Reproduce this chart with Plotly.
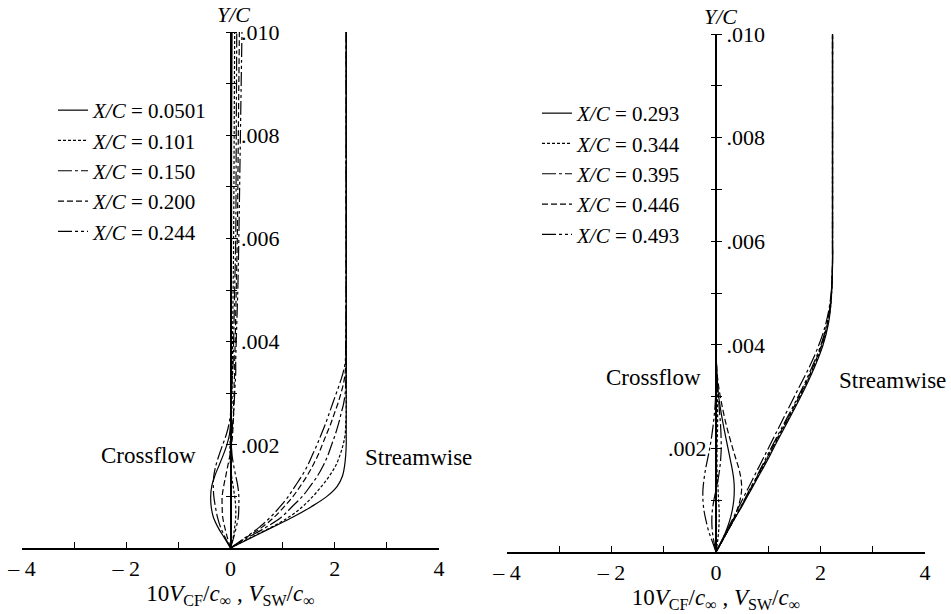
import plotly.graph_objects as go

# ---------------- data ----------------
# Left panel (X/C = 0.0501 ... 0.244)
y_left = [0, 0.0002, 0.0004, 0.0006, 0.0008, 0.0010, 0.0012, 0.0014, 0.0016, 0.0018,
          0.0020, 0.0022, 0.0024, 0.0026, 0.0028, 0.0030, 0.0032, 0.0034, 0.0036,
          0.0040, 0.0050, 0.0060, 0.0080, 0.0100]
labels_left = ["0.0501", "0.101", "0.150", "0.200", "0.244"]

sw_left_0501 = [0, 0.40, 0.80, 1.20, 1.55, 1.85, 2.05, 2.15, 2.19, 2.21, 2.22, 2.22, 2.22, 2.22, 2.22, 2.22, 2.22, 2.22, 2.22, 2.22, 2.22, 2.22, 2.22, 2.22]
sw_left_101 = [0, 0.38, 0.78, 1.12, 1.38, 1.58, 1.75, 1.90, 2.02, 2.10, 2.16, 2.20, 2.21, 2.22, 2.22, 2.22, 2.22, 2.22, 2.22, 2.22, 2.22, 2.22, 2.22, 2.22]
sw_left_150 = [0, 0.33, 0.68, 0.98, 1.18, 1.38, 1.53, 1.67, 1.78, 1.87, 1.94, 2.01, 2.07, 2.12, 2.17, 2.20, 2.21, 2.22, 2.22, 2.22, 2.22, 2.22, 2.22, 2.22]
sw_left_200 = [0, 0.30, 0.60, 0.84, 1.03, 1.20, 1.34, 1.47, 1.58, 1.68, 1.76, 1.84, 1.92, 1.99, 2.06, 2.12, 2.17, 2.20, 2.21, 2.22, 2.22, 2.22, 2.22, 2.22]
sw_left_244 = [0, 0.28, 0.55, 0.77, 0.95, 1.11, 1.24, 1.37, 1.48, 1.57, 1.66, 1.74, 1.82, 1.89, 1.96, 2.03, 2.10, 2.16, 2.20, 2.21, 2.22, 2.22, 2.22, 2.22]

cf_left_0501 = [0, -0.12, -0.24, -0.33, -0.37, -0.38, -0.36, -0.30, -0.22, -0.14, -0.07, -0.02, 0.00, 0.01, 0.01, 0.01, 0.01, 0.01, 0.01, 0.01, 0.01, 0.02, 0.02, 0.03]
cf_left_101 = [0, 0.05, 0.08, 0.10, 0.10, 0.08, 0.05, 0.02, 0.00, -0.01, -0.01, 0.00, 0.01, 0.02, 0.03, 0.03, 0.03, 0.04, 0.04, 0.04, 0.05, 0.06, 0.07, 0.08]
cf_left_150 = [0, -0.10, -0.19, -0.25, -0.29, -0.32, -0.33, -0.32, -0.28, -0.22, -0.15, -0.08, -0.03, 0.00, 0.01, 0.02, 0.03, 0.04, 0.05, 0.06, 0.08, 0.10, 0.11, 0.12]
cf_left_200 = [0, -0.06, -0.11, -0.15, -0.16, -0.16, -0.13, -0.09, -0.05, -0.01, 0.02, 0.04, 0.05, 0.06, 0.06, 0.07, 0.07, 0.08, 0.08, 0.09, 0.11, 0.13, 0.15, 0.17]
cf_left_244 = [0, 0.06, 0.11, 0.15, 0.16, 0.16, 0.14, 0.10, 0.06, 0.03, 0.02, 0.03, 0.04, 0.06, 0.07, 0.08, 0.09, 0.10, 0.10, 0.11, 0.14, 0.16, 0.19, 0.22]

# Right panel (X/C = 0.293 ... 0.493)
y_right = [0, 0.0002, 0.0004, 0.0006, 0.0008, 0.0010, 0.0012, 0.0014, 0.0016, 0.0018,
           0.0020, 0.0024, 0.0028, 0.0032, 0.0036, 0.0040, 0.0044, 0.0048, 0.0052,
           0.0056, 0.0060, 0.0080, 0.0100]
labels_right = ["0.293", "0.344", "0.395", "0.446", "0.493"]

sw_right_293 = [0, 0.11, 0.22, 0.33, 0.45, 0.56, 0.67, 0.78, 0.89, 1.00, 1.10, 1.31, 1.52, 1.72, 1.90, 2.05, 2.15, 2.20, 2.22, 2.23, 2.23, 2.23, 2.23]
sw_right_344 = [0, 0.11, 0.22, 0.33, 0.44, 0.55, 0.66, 0.77, 0.87, 0.98, 1.08, 1.29, 1.50, 1.70, 1.88, 2.03, 2.14, 2.20, 2.22, 2.23, 2.23, 2.23, 2.23]
sw_right_395 = [0, 0.10, 0.20, 0.30, 0.40, 0.50, 0.60, 0.70, 0.80, 0.90, 1.00, 1.20, 1.40, 1.60, 1.80, 1.97, 2.10, 2.18, 2.22, 2.23, 2.23, 2.23, 2.23]
sw_right_446 = [0, 0.11, 0.22, 0.33, 0.44, 0.55, 0.65, 0.76, 0.86, 0.97, 1.07, 1.28, 1.49, 1.69, 1.87, 2.02, 2.13, 2.19, 2.22, 2.23, 2.23, 2.23, 2.23]
sw_right_493 = [0, 0.11, 0.22, 0.32, 0.43, 0.54, 0.64, 0.75, 0.85, 0.95, 1.05, 1.26, 1.47, 1.67, 1.85, 2.01, 2.12, 2.19, 2.22, 2.23, 2.23, 2.23, 2.23]

cf_right_293 = [0, 0.10, 0.19, 0.26, 0.31, 0.34, 0.35, 0.34, 0.31, 0.27, 0.23, 0.15, 0.08, 0.03, 0.01, 0, 0, 0, 0, 0, 0, 0, 0]
cf_right_344 = [0, 0.03, 0.05, 0.06, 0.06, 0.05, 0.04, 0.03, 0.02, 0.02, 0.02, 0.03, 0.03, 0.02, 0.01, 0, 0, 0, 0, 0, 0, 0, 0]
cf_right_395 = [0, -0.04, -0.07, -0.08, -0.07, -0.04, 0.00, 0.04, 0.07, 0.09, 0.10, 0.09, 0.06, 0.03, 0.01, 0, 0, 0, 0, 0, 0, 0, 0]
cf_right_446 = [0, 0.11, 0.22, 0.32, 0.40, 0.46, 0.49, 0.48, 0.44, 0.38, 0.32, 0.21, 0.12, 0.05, 0.01, 0, 0, 0, 0, 0, 0, 0, 0]
cf_right_493 = [0, -0.07, -0.14, -0.19, -0.23, -0.25, -0.25, -0.23, -0.20, -0.16, -0.12, -0.06, -0.02, 0.00, 0, 0, 0, 0, 0, 0, 0, 0, 0]

x_ticks = [-4, -2, 0, 2, 4]
x_ticktext = ["\u2013 4", "\u2013 2", "0", "2", "4"]
y_ticks_left = [0.002, 0.004, 0.006, 0.008, 0.010]
y_ticktext_left = [".002", ".004", ".006", ".008", ".010"]
y_ticks_right = [0.004, 0.006, 0.008, 0.010]
y_ticktext_right = [".004", ".006", ".008", ".010"]
y_ticks_right_left = [0.002]
y_ticktext_right_left = [".002"]

# ---------------- styling ----------------
FONT = "Liberation Serif"
dashes = ["solid", "3px,2px", "14px,3px,3px,3px", "6px,3px", "14px,3px,3px,3px,3px,3px"]
W, H = 951, 614

xl_dom = [22 / W, 439 / W]
xr_dom = [507 / W, 925 / W]
yl_dom = [1 - 548 / H, 1 - 32 / H]
yr_dom = [1 - 552 / H, 1 - 34 / H]
XR = [-4, 4]
YR = [0, 0.010]


def zero_pos(dom):
    return dom[0] + (0 - XR[0]) / (XR[1] - XR[0]) * (dom[1] - dom[0])


fig = go.Figure()

left_sw = [sw_left_0501, sw_left_101, sw_left_150, sw_left_200, sw_left_244]
left_cf = [cf_left_0501, cf_left_101, cf_left_150, cf_left_200, cf_left_244]
right_sw = [sw_right_293, sw_right_344, sw_right_395, sw_right_446, sw_right_493]
right_cf = [cf_right_293, cf_right_344, cf_right_395, cf_right_446, cf_right_493]

for i, lab in enumerate(labels_left):
    ln = dict(color="black", width=1.2, dash=dashes[i])
    fig.add_trace(go.Scatter(x=left_sw[i], y=y_left, mode="lines", line=ln, line_shape="spline",
                             name=f"<i>X/C</i> = {lab}", legend="legend",
                             xaxis="x", yaxis="y", hoverinfo="skip"))
    fig.add_trace(go.Scatter(x=left_cf[i], y=y_left, mode="lines", line=ln, line_shape="spline",
                             showlegend=False, xaxis="x", yaxis="y", hoverinfo="skip"))

for i, lab in enumerate(labels_right):
    ln = dict(color="black", width=1.2, dash=dashes[i])
    fig.add_trace(go.Scatter(x=right_sw[i], y=y_right, mode="lines", line=ln, line_shape="spline",
                             name=f"<i>X/C</i> = {lab}", legend="legend2",
                             xaxis="x2", yaxis="y2", hoverinfo="skip"))
    fig.add_trace(go.Scatter(x=right_cf[i], y=y_right, mode="lines", line=ln, line_shape="spline",
                             showlegend=False, xaxis="x2", yaxis="y2", hoverinfo="skip"))

# dummy traces to bind overlay axes (ticks on the other side -> crossing ticks)
fig.add_trace(go.Scatter(x=[None], y=[None], xaxis="x", yaxis="y3", showlegend=False))
fig.add_trace(go.Scatter(x=[None], y=[None], xaxis="x2", yaxis="y4", showlegend=False))

xtitle = "10<i>V</i><sub>CF</sub>/<i>c</i><sub>\u221e</sub> , <i>V</i><sub>SW</sub>/<i>c</i><sub>\u221e</sub>"

common_x = dict(range=XR, showline=True, linecolor="black", linewidth=1.5, ticks="inside",
                ticklen=6, tickwidth=1.3, tickcolor="black", tickvals=x_ticks, ticktext=x_ticktext,
                minor=dict(dtick=1, tick0=0, ticks="inside", ticklen=6, tickwidth=1.3,
                           tickcolor="black", showgrid=False),
                showgrid=False, zeroline=False, automargin=False,
                tickfont=dict(family=FONT, size=22, color="black"),
                title=dict(text=xtitle, font=dict(family=FONT, size=23, color="black"), standoff=0),
                fixedrange=True)

tfont = dict(family=FONT, size=22, color="black")
base_y = dict(range=YR, ticks="outside", ticklen=5, tickwidth=1.3, tickcolor="black",
              minor=dict(dtick=0.001, tick0=0, ticks="outside", ticklen=5, tickwidth=1.3,
                         tickcolor="black", showgrid=False),
              showgrid=False, zeroline=False, anchor="free",
              automargin=False, tickfont=tfont, fixedrange=True)

leg_font = dict(family=FONT, size=21, color="black")

fig.update_layout(
    width=W, height=H, margin=dict(l=0, r=0, t=0, b=0), autosize=False,
    paper_bgcolor="white", plot_bgcolor="rgba(0,0,0,0)",
    hovermode=False,
    xaxis=dict(domain=xl_dom, anchor="y", **common_x),
    xaxis2=dict(domain=xr_dom, anchor="y2", **common_x),
    # main y axes: line, ticks to the right, labels on the right
    yaxis=dict(domain=yl_dom, position=zero_pos(xl_dom), side="right", showline=True,
               linecolor="black", linewidth=2, tickvals=y_ticks_left, ticktext=y_ticktext_left,
               **base_y),
    yaxis2=dict(domain=yr_dom, position=zero_pos(xr_dom), side="right", showline=True,
                linecolor="black", linewidth=2, tickvals=y_ticks_right, ticktext=y_ticktext_right,
                **base_y),
    # overlay y axes: ticks to the left
    yaxis3=dict(domain=yl_dom, position=zero_pos(xl_dom), side="left", overlaying="y",
                showline=False, showticklabels=False, tickvals=y_ticks_left, **base_y),
    yaxis4=dict(domain=yr_dom, position=zero_pos(xr_dom), side="left", overlaying="y2",
                showline=False, tickvals=y_ticks_right_left, ticktext=y_ticktext_right_left,
                **base_y),
    legend=dict(x=53 / W, y=1 - 90 / H, xanchor="left", yanchor="top",
                bgcolor="rgba(0,0,0,0)", font=leg_font, tracegroupgap=0,
                traceorder="normal", itemclick=False, itemdoubleclick=False),
    legend2=dict(x=537 / W, y=1 - 93 / H, xanchor="left", yanchor="top",
                 bgcolor="rgba(0,0,0,0)", font=leg_font, tracegroupgap=0,
                 traceorder="normal", itemclick=False, itemdoubleclick=False),
)

ann_font = dict(family=FONT, size=23, color="black")
annotations = [
    dict(text="<i>Y/C</i>", x=0.05, y=0.010, xref="x", yref="y", yshift=18, showarrow=False,
         font=dict(family=FONT, size=22, color="black")),
    dict(text="<i>Y/C</i>", x=0.08, y=0.010, xref="x2", yref="y2", yshift=18, showarrow=False,
         font=dict(family=FONT, size=22, color="black")),
    dict(text="Crossflow", x=-1.58, y=0.0018, xref="x", yref="y", showarrow=False, font=ann_font),
    dict(text="Streamwise", x=3.6, y=0.00176, xref="x", yref="y", showarrow=False, font=ann_font),
    dict(text="Crossflow", x=-1.2, y=0.00336, xref="x2", yref="y2", showarrow=False, font=ann_font),
    dict(text="Streamwise", x=3.37, y=0.00332, xref="x2", yref="y2", showarrow=False, font=ann_font),
]
fig.update_layout(annotations=annotations)

fig.write_html("out.html", config={"displayModeBar": False},
               post_script="document.body.style.margin='0';document.body.style.overflow='hidden';")
